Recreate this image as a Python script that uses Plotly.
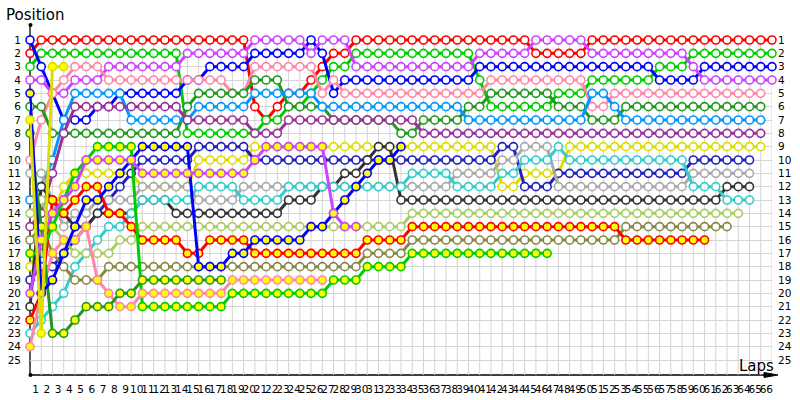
import plotly.graph_objects as go

# ---------------- data: position per lap (index = lap, 0 = grid) ----------------
pos_red = [2,1,1,1,1,1,1,1,1,1, 1,1,1,1,1,1,1,1,1,1, 6,7,6,5,5,4,3,2,2,1,
           1,1,1,1,1,1,1,1,1,1, 1,1,1,1,1,2,2,2,2,2, 1,1,1,1,1,1,1,1,1,1, 1,1,1,1,1,1,1]
pos_green = [3,2,2,2,2,2,2,2,2,2, 2,2,2,2,8,8,8,8,8,8, 8,7,7,6,6,5,4,3,3,2,
             2,2,2,2,2,2,2,2,2,2, 4,6,6,6,6,6,6,5,5,5, 4,4,4,4,4,4,3,3,3,2, 2,2,2,2,2,2,2]
pos_blue = [1,3,5,7,7,7,6,6,5,5, 5,5,5,5,4,4,3,3,3,3, 2,2,2,2,2,1,2,5,4,4,
            4,4,4,4,4,4,4,4,4,4, 3,3,3,3,3,3,3,3,3,3, 3,3,3,3,3,3,4,4,4,4, 3,3,3,3,3,3,3]
pos_violet = [4,4,5,5,4,4,4,3,3,3, 3,3,3,3,2,2,2,2,2,2, 1,1,1,1,1,2,1,1,1,3,
              3,3,3,3,3,3,3,3,3,3, 2,2,2,2,2,1,1,1,1,1, 2,2,2,2,2,2,2,2,2,3, 4,4,4,4,4,4,4]
pos_pink = [10,7,5,4,3,3,3,4,4,4, 4,4,4,4,4,4,4,4,5,5, 3,3,3,3,3,3,5,4,5,5,
            5,5,5,5,5,5,5,5,5,5, 5,4,4,4,4,4,4,4,4,4, 6,6,5,5,5,5,5,5,5,5, 5,5,5,5,5,5]
pos_dkgreen = [6,6,8,8,8,8,8,8,8,8, 8,8,8,8,6,5,5,5,5,5, 4,4,4,6,6,6,6,7,7,7,
               7,7,7,8,8,7,7,7,7,6, 6,5,5,5,5,5,5,6,6,6, 7,7,7,6,6,6,6,6,6,6, 6,6,6,6,6,6]
pos_ltblue = [13,12,10,7,5,5,5,5,5,7, 7,7,7,7,7,6,6,6,6,6, 5,5,5,5,5,5,6,6,6,6,
              6,6,6,6,6,6,6,6,6,7, 7,7,7,7,7,7,7,7,7,7, 5,5,6,7,7,7,7,7,7,7, 7,7,7,7,7,7]
pos_plum = [15,14,11,8,6,6,6,6,6,6, 6,6,6,6,7,7,7,7,7,7, 8,8,8,7,7,7,7,7,7,7,
            7,7,7,7,7,8,8,8,8,8, 8,8,8,8,8,8,8,8,8,8, 8,8,8,8,8,8,8,8,8,8, 8,8,8,8,8,8]
pos_yellow = [18,16,14,12,11,11,11,11,11,11, 12,12,12,12,12,10,10,10,10,10, 9,9,9,9,9,9,9,9,9,9,
              9,9,9,9,9,9,9,9,9,9, 9,9,12,12,11,11,11,11,9,9, 9,9,9,9,9,9,9,9,9,9, 9,9,9,9,9,9]
pos_navy = [19,18,18,17,16,15,14,13,12,11, 10,10,10,10,10,9,9,9,9,9, 10,10,10,10,10,10,10,10,10,10,
            10,10,10,10,10,10,10,10,10,10, 10,10,9,9,12,12,12,11,11,11, 11,11,11,11,11,11,11,11,11,10, 10,10,10,10,10]
pos_gray = [11,11,13,15,14,14,13,13,13,13, 12,12,12,12,12,13,13,13,13,12, 12,12,12,12,12,12,12,12,12,12,
            12,12,12,12,12,12,12,12,11,11, 11,11,10,10,9,9,9,12,12,12, 12,12,12,12,12,12,12,12,12,11, 11,11,11,11,11]
pos_black = [21,12,13,14,15,15,14,14,14,14, 13,13,13,14,14,14,14,14,14,14, 14,14,14,13,13,13,12,12,11,11,
             10,9,9,13,13,13,13,13,13,13, 13,13,13,13,13,13,13,13,13,13, 13,13,13,13,13,13,13,13,13,13, 13,13,12,12,12]
pos_cyan = [23,22,21,20,18,17,16,15,15,14, 13,13,13,13,13,12,12,12,12,13, 13,13,13,12,12,12,12,12,12,12,
            12,12,12,12,11,11,11,11,12,12, 12,12,11,11,10,10,10,9,10,10, 10,10,10,10,10,10,10,10,10,12, 12,12,13,13,13]
pos_lime = [14,13,15,16,17,17,17,17,16,16, 15,15,15,15,15,15,15,15,15,15, 15,15,15,15,15,15,15,15,15,15,
            15,15,15,15,14,14,14,14,14,14, 14,14,14,14,14,14,14,14,14,14, 14,14,14,14,14,14,14,14,14,14, 14,14,14,14]
pos_olive = [16,15,17,18,19,19,19,18,18,18, 18,18,18,18,18,18,18,18,18,18, 18,18,18,18,18,18,18,18,18,18,
             17,17,17,17,16,16,16,16,16,16, 16,16,16,16,16,16,16,16,16,16, 16,16,16,15,15,15,15,15,15,15, 15,15,15]
pos_red2 = [22,20,13,14,13,12,12,14,14,15, 16,16,16,16,17,17,16,16,16,16, 17,17,17,17,17,17,17,17,17,17,
            16,16,16,16,15,15,15,15,15,15, 15,15,15,15,15,15,15,15,15,15, 15,15,15,16,16,16,16,16,16,16, 16]
pos_green2 = [17,17,15,13,11,10,9,9,9,9, 21,21,21,21,21,21,21,21,20,20, 20,20,20,20,20,20,20,19,19,19,
              18,18,18,18,17,17,17,17,17,17, 17,17,17,17,17,17,17]
pos_pink2 = [24,20,17,16,16,15,19,20,21,21, 20,20,20,20,20,20,20,20,19,19, 19,19,19,19,19,19,19]
pos_dkgreen2 = [8,15,23,23,22,21,21,21,20,20, 19,19,19,19,19,19,19,19]
pos_blue2 = [5,20,19,17,15,13,13,12,11,10, 9,9,9,9,9,18,18,18,17,17, 16,16,16,16,16,15,15,14,13,12,
             11,10,10,9]
pos_violet2 = [20,16,14,13,12,10,10,10,10,10, 11,11,11,11,11,11,11,11,11,11, 10,9,9,9,9,9,9,14,15,15]
pos_yellow2 = [7,23,3,3]

n_laps = 66
n_pos = 25
x_labels = [str(n) for n in range(1, n_laps + 1)]
y_labels = [str(n) for n in range(1, n_pos + 1)]

drivers = [
    ("#ff0000", "white", pos_red),
    ("#00cc00", "white", pos_green),
    ("#0000ff", "white", pos_blue),
    ("#cc44ff", "white", pos_violet),
    ("#ff88aa", "white", pos_pink),
    ("#229922", "white", pos_dkgreen),
    ("#0099ff", "white", pos_ltblue),
    ("#993399", "white", pos_plum),
    ("#dddd00", "white", pos_yellow),
    ("#2222bb", "white", pos_navy),
    ("#aaaaaa", "white", pos_gray),
    ("#333333", "white", pos_black),
    ("#33cccc", "white", pos_cyan),
    ("#aacc66", "white", pos_lime),
    ("#888844", "white", pos_olive),
    ("#ff0000", "#ffff00", pos_red2),
    ("#00cc00", "#ffff00", pos_green2),
    ("#ff88aa", "#ffff00", pos_pink2),
    ("#229922", "#ffff00", pos_dkgreen2),
    ("#0000ff", "#ffff00", pos_blue2),
    ("#cc44ff", "#ffff00", pos_violet2),
    ("#dddd00", "#ffff00", pos_yellow2),
]

fig = go.Figure()
for color, fill, pos in drivers:
    fig.add_trace(go.Scatter(
        x=list(range(len(pos))), y=pos, mode="lines+markers",
        line=dict(color=color, width=3),
        marker=dict(symbol="circle", size=8, color=fill, line=dict(color=color, width=1.6)),
        cliponaxis=False, showlegend=False, hoverinfo="skip"))

# right-hand labels axis
fig.add_trace(go.Scatter(x=[0], y=[1], yaxis="y2", mode="markers",
                         marker=dict(opacity=0), showlegend=False, hoverinfo="skip"))

L, R, T, B = 30, 772, 25, 375
W, H = 800, 400
font_lbl = dict(family="DejaVu Sans", size=10.5, color="#000000")
grid_col = "#d4d4d4"
y_lo, y_hi = 26.125, -0.125

fig.update_layout(
    width=W, height=H,
    margin=dict(l=L, r=W - R, t=T, b=H - B, pad=0, autoexpand=False),
    paper_bgcolor="white", plot_bgcolor="white",
    xaxis=dict(range=[0, n_laps], showgrid=False, zeroline=False, showline=False, automargin=False,
               tickmode="array", tickvals=[n - 0.5 for n in range(1, n_laps + 1)], ticktext=x_labels,
               ticks="", ticklabelstandoff=6, tickfont=font_lbl, tickangle=0),
    yaxis=dict(range=[y_lo, y_hi], showgrid=False, zeroline=False, showline=False, automargin=False,
               tickmode="array", tickvals=list(range(1, n_pos + 1)), ticktext=y_labels,
               ticks="", ticklabelstandoff=8, tickfont=font_lbl,
               minor=dict(tickmode="array", tickvals=list(range(1, n_pos + 1)), showgrid=True,
                          gridcolor=grid_col, gridwidth=1)),
    yaxis2=dict(range=[y_lo, y_hi], overlaying="y", side="right", anchor="x", automargin=False,
                showgrid=False, zeroline=False, showline=False,
                tickmode="array", tickvals=list(range(1, n_pos + 1)), ticktext=y_labels,
                ticks="", ticklabelstandoff=5, tickfont=font_lbl),
)

def px(xp):
    return (xp - L) / (R - L)

def py(yp):
    return (B - yp) / (B - T)

shapes = []
# vertical grid lines: from row 1 down to the lap axis
for lap in range(1, n_laps + 1):
    shapes.append(dict(type="line", xref="x", yref="y", x0=lap, x1=lap, y0=1, y1=y_lo,
                       line=dict(color=grid_col, width=1), layer="below"))
shapes += [
    dict(type="line", xref="paper", yref="paper", x0=px(30), x1=px(30), y0=py(25), y1=py(375),
         line=dict(color="black", width=1.3), layer="below"),
    dict(type="line", xref="paper", yref="paper", x0=px(30), x1=px(770), y0=py(375), y1=py(375),
         line=dict(color="black", width=1.3), layer="below"),
    dict(type="path", xref="paper", yref="paper",
         path="M {},{} L {},{} L {},{} Z".format(px(764), py(372.5), px(778), py(375), px(764), py(377.5)),
         fillcolor="black", line=dict(color="black", width=1)),
    dict(type="circle", xref="paper", yref="paper", x0=px(28.5), x1=px(32.5), y0=py(23), y1=py(27),
         fillcolor="black", line=dict(color="black", width=0)),
    dict(type="circle", xref="paper", yref="paper", x0=px(28.5), x1=px(32.5), y0=py(373), y1=py(377),
         fillcolor="black", line=dict(color="black", width=0)),
]
fig.update_layout(shapes=shapes)

fig.add_annotation(text="Position", xref="paper", yref="paper", x=px(4), y=py(15),
                   xanchor="left", yanchor="middle", showarrow=False,
                   font=dict(family="DejaVu Sans", size=15, color="black"))
fig.add_annotation(text="Laps", xref="paper", yref="paper", x=px(776), y=py(366),
                   xanchor="right", yanchor="middle", showarrow=False,
                   font=dict(family="DejaVu Sans", size=15, color="black"))

fig.write_html("out.html", config={"displayModeBar": False},
               post_script="document.body.style.margin='0px';document.body.style.padding='0px';")
